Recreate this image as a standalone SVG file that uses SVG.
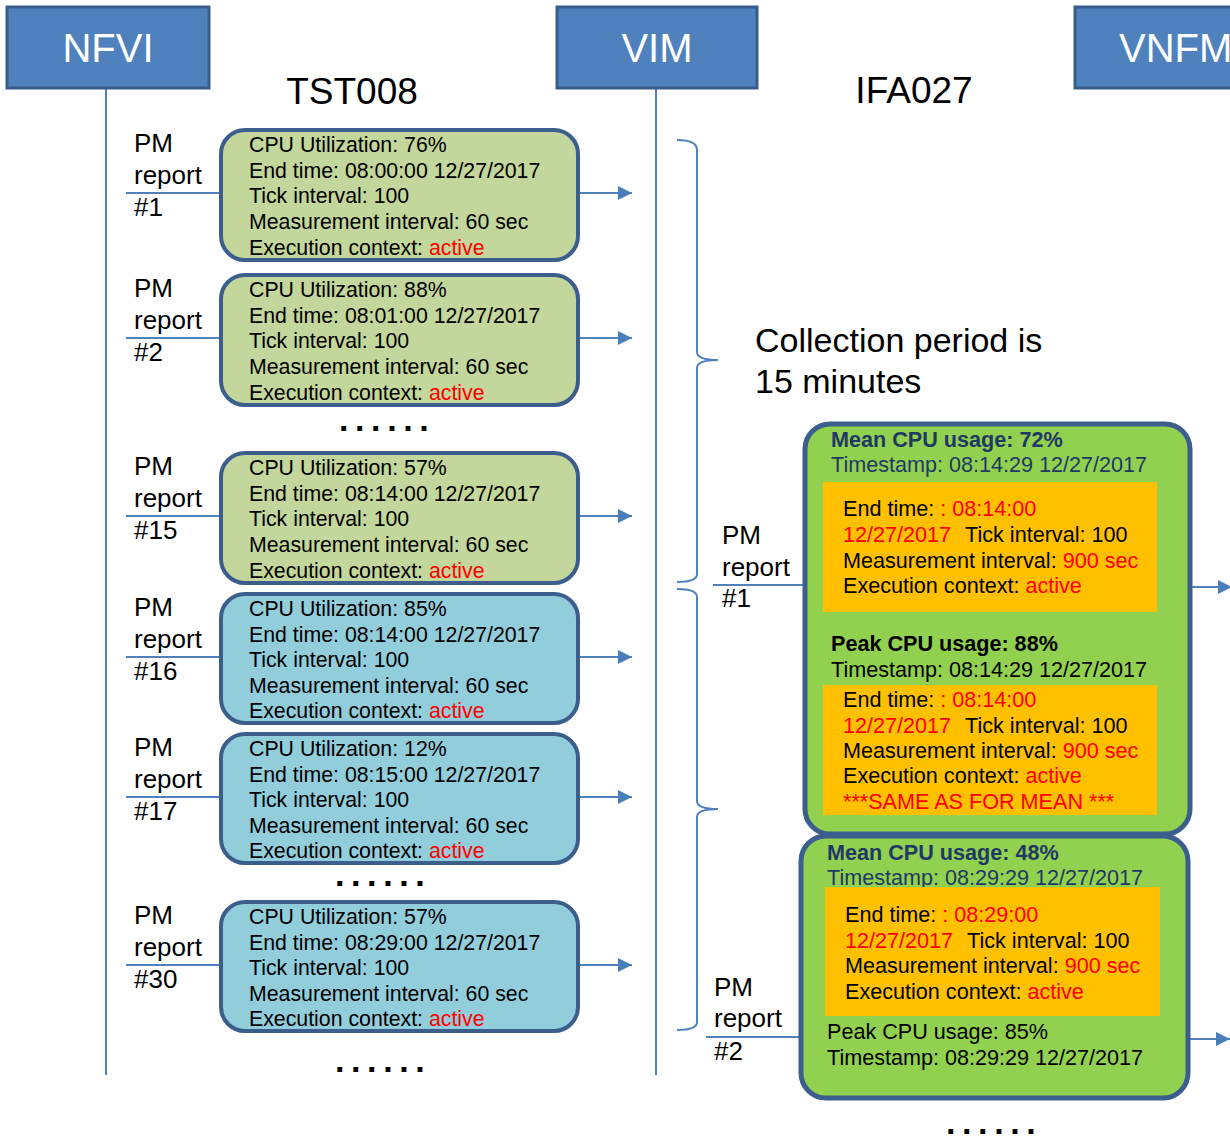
<svg xmlns="http://www.w3.org/2000/svg" width="1230" height="1138" viewBox="0 0 1230 1138">
<style>
text{font-family:"Liberation Sans",Arial,sans-serif;fill:#000}
.hdr{fill:#4f81bd;stroke:#385d8a;stroke-width:3}
.hdrt{font-size:40px;fill:#fff}
.title{font-size:37px}
.t{font-size:21.3px}
.tr{font-size:21.6px}
.lbl{font-size:26px}
.coll{font-size:34px}
.r{fill:#ff0000}
.b{font-weight:bold}
.db{fill:#1f3864}
.pmg{fill:#c3d69b;stroke:#3b5e8c;stroke-width:4}
.pmb{fill:#92cddc;stroke:#3b5e8c;stroke-width:4}
.big{fill:#92d050;stroke:#3b5e8c;stroke-width:5}
.or{fill:#ffc000}
.ln{stroke:#4f81bd;stroke-width:2;fill:none}
.dots{font-size:34px;font-weight:bold;letter-spacing:6.6px}
</style>
<defs>
<marker id="ah" viewBox="0 0 14 14" refX="14" refY="7" markerWidth="14" markerHeight="14" markerUnits="userSpaceOnUse" orient="auto">
<path d="M0,0 L14,7 L0,14 z" fill="#4a7ebb"/>
</marker>
</defs>

<g id="connectors">
<line class="ln" x1="106" y1="88" x2="106" y2="1075"/>
<line class="ln" x1="656" y1="88" x2="656" y2="1075"/>
<path class="ln" d="M677,140 Q697,140 697,150 L697,352 Q697,360 718,360 Q697,360 697,368 L697,574 Q697,582 677,582"/>
<path class="ln" d="M677,589 Q697,589 697,597 L697,801 Q697,809 718,809 Q697,809 697,817 L697,1022 Q697,1030 677,1030"/>
<g class="ln">
<line x1="126" y1="193" x2="221" y2="193"/>
<line x1="126" y1="338" x2="221" y2="338"/>
<line x1="126" y1="516" x2="221" y2="516"/>
<line x1="126" y1="657" x2="221" y2="657"/>
<line x1="126" y1="797" x2="221" y2="797"/>
<line x1="126" y1="965" x2="221" y2="965"/>
<line x1="713" y1="585" x2="805" y2="585"/>
<line x1="706" y1="1037" x2="801" y2="1037"/>
</g>
<g class="ln" marker-end="url(#ah)">
<line x1="578" y1="193" x2="632" y2="193"/>
<line x1="578" y1="338" x2="632" y2="338"/>
<line x1="578" y1="516" x2="632" y2="516"/>
<line x1="578" y1="657" x2="632" y2="657"/>
<line x1="578" y1="797" x2="632" y2="797"/>
<line x1="578" y1="965" x2="632" y2="965"/>
<line x1="1190" y1="587" x2="1232" y2="587"/>
<line x1="1188" y1="1039" x2="1230" y2="1039"/>
</g>
</g>

<g id="nfvi"><rect class="hdr" x="7" y="7" width="202" height="81"/><text class="hdrt" x="108" y="62" text-anchor="middle">NFVI</text></g>
<g id="vim"><rect class="hdr" x="557" y="7" width="200" height="81"/><text class="hdrt" x="657" y="62" text-anchor="middle">VIM</text></g>
<g id="vnfm"><rect class="hdr" x="1075" y="7" width="170" height="81"/><text class="hdrt" x="1119" y="62">VNFM</text></g>

<g id="titles">
<text class="title" x="352" y="104" text-anchor="middle">TST008</text>
<text class="title" x="914" y="103" text-anchor="middle">IFA027</text>
<text class="coll" x="755" y="352">Collection period is</text>
<text class="coll" x="755" y="393">15 minutes</text>
</g>

<g id="pm1">
<rect class="pmg" x="221" y="130" width="357" height="130" rx="24"/>
<text class="lbl"><tspan x="134" y="152">PM</tspan><tspan x="134" y="184">report</tspan><tspan x="134" y="216">#1</tspan></text>
<text class="t"><tspan x="249" y="152">CPU Utilization: 76%</tspan><tspan x="249" y="178">End time: 08:00:00 12/27/2017</tspan><tspan x="249" y="203">Tick interval: 100</tspan><tspan x="249" y="229">Measurement interval: 60 sec</tspan><tspan x="249" y="255">Execution context: <tspan class="r">active</tspan></tspan></text>
</g>
<g id="pm2">
<rect class="pmg" x="221" y="275" width="357" height="130" rx="24"/>
<text class="lbl"><tspan x="134" y="297">PM</tspan><tspan x="134" y="329">report</tspan><tspan x="134" y="361">#2</tspan></text>
<text class="t"><tspan x="249" y="297">CPU Utilization: 88%</tspan><tspan x="249" y="323">End time: 08:01:00 12/27/2017</tspan><tspan x="249" y="348">Tick interval: 100</tspan><tspan x="249" y="374">Measurement interval: 60 sec</tspan><tspan x="249" y="400">Execution context: <tspan class="r">active</tspan></tspan></text>
</g>
<g id="pm15">
<rect class="pmg" x="221" y="453" width="357" height="130" rx="24"/>
<text class="lbl"><tspan x="134" y="475">PM</tspan><tspan x="134" y="507">report</tspan><tspan x="134" y="539">#15</tspan></text>
<text class="t"><tspan x="249" y="475">CPU Utilization: 57%</tspan><tspan x="249" y="501">End time: 08:14:00 12/27/2017</tspan><tspan x="249" y="526">Tick interval: 100</tspan><tspan x="249" y="552">Measurement interval: 60 sec</tspan><tspan x="249" y="578">Execution context: <tspan class="r">active</tspan></tspan></text>
</g>
<g id="pm16">
<rect class="pmb" x="221" y="594" width="357" height="129" rx="24"/>
<text class="lbl"><tspan x="134" y="616">PM</tspan><tspan x="134" y="648">report</tspan><tspan x="134" y="680">#16</tspan></text>
<text class="t"><tspan x="249" y="616">CPU Utilization: 85%</tspan><tspan x="249" y="642">End time: 08:14:00 12/27/2017</tspan><tspan x="249" y="667">Tick interval: 100</tspan><tspan x="249" y="693">Measurement interval: 60 sec</tspan><tspan x="249" y="718">Execution context: <tspan class="r">active</tspan></tspan></text>
</g>
<g id="pm17">
<rect class="pmb" x="221" y="734" width="357" height="129" rx="24"/>
<text class="lbl"><tspan x="134" y="756">PM</tspan><tspan x="134" y="788">report</tspan><tspan x="134" y="820">#17</tspan></text>
<text class="t"><tspan x="249" y="756">CPU Utilization: 12%</tspan><tspan x="249" y="782">End time: 08:15:00 12/27/2017</tspan><tspan x="249" y="807">Tick interval: 100</tspan><tspan x="249" y="833">Measurement interval: 60 sec</tspan><tspan x="249" y="858">Execution context: <tspan class="r">active</tspan></tspan></text>
</g>
<g id="pm30">
<rect class="pmb" x="221" y="902" width="357" height="129" rx="24"/>
<text class="lbl"><tspan x="134" y="924">PM</tspan><tspan x="134" y="956">report</tspan><tspan x="134" y="988">#30</tspan></text>
<text class="t"><tspan x="249" y="924">CPU Utilization: 57%</tspan><tspan x="249" y="950">End time: 08:29:00 12/27/2017</tspan><tspan x="249" y="975">Tick interval: 100</tspan><tspan x="249" y="1001">Measurement interval: 60 sec</tspan><tspan x="249" y="1026">Execution context: <tspan class="r">active</tspan></tspan></text>
</g>

<g id="dots">
<text class="dots" x="339" y="431">......</text>
<text class="dots" x="335" y="886">......</text>
<text class="dots" x="335" y="1072">......</text>
<text class="dots" x="946" y="1134">......</text>
</g>

<g id="ifa-pm1">
<rect class="big" x="805" y="424" width="385" height="410" rx="25"/>
<text class="lbl"><tspan x="722" y="544">PM</tspan><tspan x="722" y="576">report</tspan><tspan x="722" y="607">#1</tspan></text>
<text class="tr b db" x="831" y="447">Mean CPU usage: 72%</text>
<text class="tr db" x="831" y="472">Timestamp: 08:14:29 12/27/2017</text>
<rect class="or" x="823" y="482" width="334" height="130"/>
<text class="tr"><tspan x="843" y="516">End time: <tspan class="r">: 08:14:00</tspan></tspan><tspan x="843" y="542"><tspan class="r">12/27/2017</tspan><tspan dx="14">Tick interval: 100</tspan></tspan><tspan x="843" y="568">Measurement interval: <tspan class="r">900 sec</tspan></tspan><tspan x="843" y="593">Execution context: <tspan class="r">active</tspan></tspan></text>
<text class="tr b" x="831" y="651">Peak CPU usage: 88%</text>
<text class="tr" x="831" y="677">Timestamp: 08:14:29 12/27/2017</text>
<rect class="or" x="823" y="685" width="334" height="130"/>
<text class="tr"><tspan x="843" y="707">End time: <tspan class="r">: 08:14:00</tspan></tspan><tspan x="843" y="733"><tspan class="r">12/27/2017</tspan><tspan dx="14">Tick interval: 100</tspan></tspan><tspan x="843" y="758">Measurement interval: <tspan class="r">900 sec</tspan></tspan><tspan x="843" y="783">Execution context: <tspan class="r">active</tspan></tspan><tspan x="843" y="809" class="r">***SAME AS FOR MEAN ***</tspan></text>
</g>

<g id="ifa-pm2">
<rect class="big" x="801" y="836" width="387" height="262" rx="25"/>
<text class="lbl"><tspan x="714" y="996">PM</tspan><tspan x="714" y="1027">report</tspan><tspan x="714" y="1060">#2</tspan></text>
<text class="tr b db" x="827" y="860">Mean CPU usage: 48%</text>
<text class="tr db" x="827" y="885">Timestamp: 08:29:29 12/27/2017</text>
<rect class="or" x="825" y="887" width="335" height="129"/>
<text class="tr"><tspan x="845" y="922">End time: <tspan class="r">: 08:29:00</tspan></tspan><tspan x="845" y="948"><tspan class="r">12/27/2017</tspan><tspan dx="14">Tick interval: 100</tspan></tspan><tspan x="845" y="973">Measurement interval: <tspan class="r">900 sec</tspan></tspan><tspan x="845" y="999">Execution context: <tspan class="r">active</tspan></tspan></text>
<text class="tr" x="827" y="1039">Peak CPU usage: 85%</text>
<text class="tr" x="827" y="1065">Timestamp: 08:29:29 12/27/2017</text>
</g>
</svg>
